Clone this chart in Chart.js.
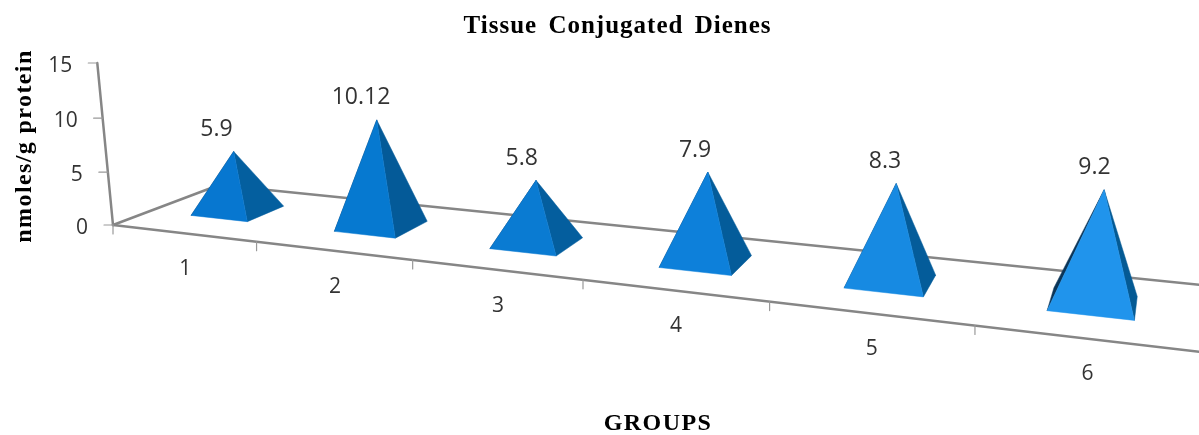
<!DOCTYPE html>
<html lang="en">
<head>
  <meta charset="UTF-8" />
  <title>Tissue Conjugated Dienes</title>
  <script src="https://cdn.jsdelivr.net/npm/chart.js"></script>
  <style>
    html, body { margin: 0; padding: 0; background: #fff; }
    canvas { display: block; }
  </style>
</head>
<body>
  <canvas id="chart" width="1199" height="435"></canvas>

  <script>
    const categories = ['1', '2', '3', '4', '5', '6'];
    const values = [5.9, 10.12, 5.8, 7.9, 8.3, 9.2];
    const valueLabels = ['5.9', '10.12', '5.8', '7.9', '8.3', '9.2'];
    const yTicks = [0, 5, 10, 15];

    const frontColors = ['#0777d0', '#0679d0', '#0a7bd2', '#0d80da', '#178ae2', '#2094ec'];
    const sideColors = ['#045f9f', '#045a98', '#045e9e', '#045c9a', '#045c9a', '#045a94'];
    const tickFont = '21px "Open Sans"';
    const valueFont = '23px "Open Sans"';
    const axisTitleFont = 'bold 24px "Liberation Serif"';

    // floor corners in pixels: front-left, front-right, back-left, back-right
    const floor = [[113, 225], [1202, 352], [219, 185], [1201, 285]];
    // vertical lines lean away from this point, lift sets the pixels per value
    const vanish = [600, 5250];
    const lift = 0.03123;

    // unit square -> floor quad
    function floorMatrix(q) {
      const [p0, p1, p3, p2] = q;
      const dx1 = p1[0] - p2[0], dx2 = p3[0] - p2[0], sx = p0[0] - p1[0] + p2[0] - p3[0];
      const dy1 = p1[1] - p2[1], dy2 = p3[1] - p2[1], sy = p0[1] - p1[1] + p2[1] - p3[1];
      const den = dx1 * dy2 - dx2 * dy1;
      const g = (sx * dy2 - dx2 * sy) / den;
      const h = (dx1 * sy - sx * dy1) / den;
      return {
        a: p1[0] - p0[0] + g * p1[0], b: p3[0] - p0[0] + h * p3[0], c: p0[0],
        d: p1[1] - p0[1] + g * p1[1], e: p3[1] - p0[1] + h * p3[1], f: p0[1],
        g: g, h: h
      };
    }
    const m = floorMatrix(floor);

    // along: 0..1 over the category axis, depth: 0..1 front to back, up: 0..1 of the value axis
    function project(along, depth, up) {
      const w = m.g * along + m.h * depth + 1 - lift * up;
      return [
        (m.a * along + m.b * depth + m.c - lift * up * vanish[0]) / w,
        (m.d * along + m.e * depth + m.f - lift * up * vanish[1]) / w
      ];
    }

    function line(ctx, a, b) {
      ctx.beginPath();
      ctx.moveTo(a[0], a[1]);
      ctx.lineTo(b[0], b[1]);
      ctx.stroke();
    }

    function face(ctx, pts, color) {
      ctx.fillStyle = color;
      ctx.strokeStyle = color;
      ctx.lineWidth = 0.5;
      ctx.beginPath();
      pts.forEach((p, i) => i ? ctx.lineTo(p[0], p[1]) : ctx.moveTo(p[0], p[1]));
      ctx.closePath();
      ctx.fill();
      ctx.stroke();
    }

    const pyramid3d = {
      id: 'pyramid3d',
      beforeDraw(chart) {
        // the title box has no spacing option
        chart.ctx.letterSpacing = '1px';
        chart.ctx.wordSpacing = '4px';
      },
      beforeDatasetsDraw(chart) {
        const ctx = chart.ctx, x = chart.scales.x, y = chart.scales.y;
        const step = 1 / categories.length;
        ctx.letterSpacing = '0px';
        ctx.wordSpacing = '0px';
        ctx.save();
        ctx.lineCap = 'round';

        // floor and value axis
        ctx.strokeStyle = '#868686';
        ctx.lineWidth = 2.5;
        line(ctx, project(0, 0, 0), project(1, 0, 0));
        line(ctx, project(0, 1, 0), project(1, 1, 0));
        line(ctx, project(0, 0, 0), project(0, 1, 0));
        line(ctx, project(0, 0, 0), project(0, 0, 1));

        ctx.font = tickFont;
        ctx.fillStyle = '#333';
        ctx.textBaseline = 'middle';

        // value ticks
        ctx.textAlign = 'right';
        y.ticks.forEach(t => {
          const p = project(0, 0, (y.bottom - y.getPixelForValue(t.value)) / y.height);
          ctx.strokeStyle = '#999';
          ctx.lineWidth = 1.2;
          line(ctx, p, [p[0] - 9, p[1]]);
          ctx.fillText(t.label, p[0] - 25, p[1] + 3);
        });

        // category ticks and labels
        ctx.textAlign = 'center';
        categories.forEach((c, i) => {
          const along = (x.getPixelForValue(i) - x.left) / x.width;
          const t = project(along - step / 2, 0, 0);
          line(ctx, t, [t[0], t[1] + 9]);
          const p = project(along, 0, 0);
          ctx.fillText(c, p[0] + 2, p[1] + 36);
        });
        const end = project(1, 0, 0);
        line(ctx, end, [end[0], end[1] + 9]);

        // axis titles
        ctx.font = axisTitleFont;
        ctx.fillStyle = '#000';
        ctx.letterSpacing = '1.4px';
        ctx.fillText('GROUPS', 658, 424);
        ctx.letterSpacing = '1.4px';
        ctx.translate(25, 146);
        ctx.rotate(-Math.PI / 2);
        ctx.fillText('nmoles/g protein', 0, 0);
        ctx.restore();
      },
      afterDatasetsDraw(chart) {
        const ctx = chart.ctx, x = chart.scales.x, y = chart.scales.y;
        const half = 0.0335, near = 0.33, far = 0.70;
        ctx.save();
        chart.getDatasetMeta(0).data.forEach((bar, i) => {
          const along = (bar.x - x.left) / x.width;
          const up = (y.bottom - bar.y) / y.height;
          const fl = project(along - half, near, 0);
          const fr = project(along + half, near, 0);
          const bl = project(along - half, far, 0);
          const br = project(along + half, far, 0);
          const apex = project(along, (near + far) / 2, up * 0.98);
          face(ctx, [bl, apex, fl], '#0b3558');
          face(ctx, [fr, br, apex], sideColors[i]);
          face(ctx, [fl, fr, apex], frontColors[i]);

          ctx.font = valueFont;
          ctx.fillStyle = '#333';
          ctx.textAlign = 'center';
          ctx.textBaseline = 'middle';
          ctx.fillText(valueLabels[i], apex[0] - 18 + 9 * along, apex[1] - 22);
        });
        ctx.restore();
      }
    };

    new Chart(document.getElementById('chart'), {
      type: 'bar',
      data: {
        labels: categories,
        datasets: [{ data: values, backgroundColor: 'transparent', borderWidth: 0 }]
      },
      options: {
        responsive: false,
        animation: false,
        layout: { padding: { left: 36 } },
        plugins: {
          legend: { display: false },
          tooltip: { enabled: false },
          title: {
            display: true,
            text: 'Tissue Conjugated Dienes',
            color: '#000',
            font: { family: 'Liberation Serif', size: 25, weight: 'bold' },
            padding: { top: 12, bottom: 10 }
          }
        },
        scales: {
          x: { display: false },
          y: {
            display: false,
            min: yTicks[0],
            max: yTicks[yTicks.length - 1],
            ticks: { stepSize: yTicks[1] - yTicks[0] }
          }
        }
      },
      plugins: [pyramid3d]
    });
  </script>
</body>
</html>
